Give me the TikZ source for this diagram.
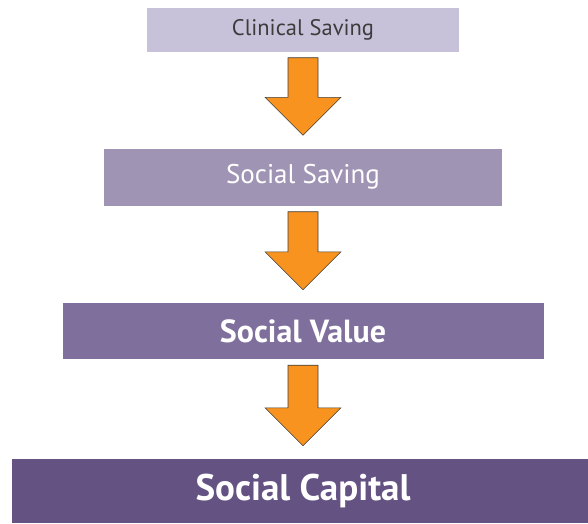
\documentclass[tikz,border=0pt]{standalone}
\usepackage{fontspec}
\setmainfont{PT Sans}
\usetikzlibrary{calc}
\definecolor{lilac1}{RGB}{199, 194, 217}
\definecolor{lilac2}{RGB}{160, 148, 181}
\definecolor{lilac3}{RGB}{127, 111, 156}
\definecolor{lilac4}{RGB}{100, 82, 131}
\definecolor{flowor}{RGB}{247, 147, 30}
\definecolor{textgray}{RGB}{60, 60, 60}
\tikzset{
  stagebox/.style={rectangle, draw=none, inner sep=0pt, align=center},
  flowarrow/.style={fill=flowor, draw=black!75, line width=0.6pt, line join=miter}
}

\begin{document}
\begin{tikzpicture}[x=1pt, y=-1pt]
  \useasboundingbox (0,0) rectangle (588,523);

  % Clinical
  \node[stagebox, fill=lilac1, minimum width=312pt, minimum height=44pt, text=textgray, font=\fontsize{22.5}{26}\selectfont] (clin) at (303, 29.5) {Clinical Saving};

  % Social saving
  \node[stagebox, fill=lilac2, minimum width=398pt, minimum height=57pt, text=white, font=\fontsize{27}{31}\selectfont] (ssav) at (303, 177) {Social Saving};

  % Social value
  \node[stagebox, fill=lilac3, minimum width=481pt, minimum height=56pt, text=white, font=\fontsize{32}{36}\selectfont\bfseries] (sval) at (303, 331) {Social Value};

  % Social capital
  \node[stagebox, fill=lilac4, minimum width=582pt, minimum height=64pt, text=white, font=\fontsize{37}{41}\selectfont\bfseries] (scap) at (303, 491) {Social Capital};

  % Arrows
  \foreach \a/\b in {clin/ssav, ssav/sval, sval/scap}
    \draw[flowarrow] let \p1=(\a.south), \p2=(\b.north) in
      (\x1-15pt, \y1-6pt) -- (\x1+15pt, \y1-6pt) -- (\x1+15pt, \y2+51pt)
      -- (\x1+38pt, \y2+51pt) -- (\x1, \y2+13pt) -- (\x1-38pt, \y2+51pt)
      -- (\x1-15pt, \y2+51pt) -- cycle;
\end{tikzpicture}
\end{document}
